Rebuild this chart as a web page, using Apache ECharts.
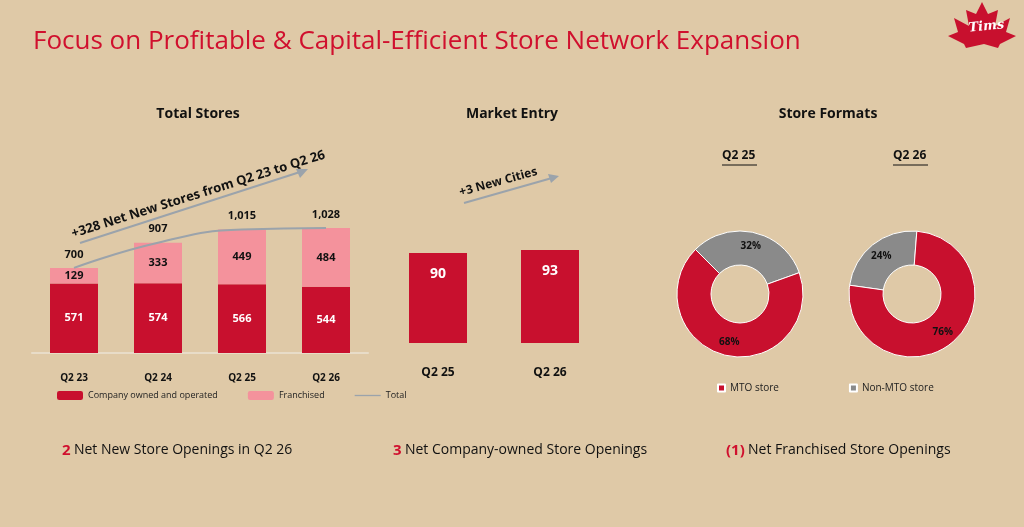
<!DOCTYPE html><html><head><meta charset="utf-8"><script src="https://cdn.jsdelivr.net/npm/echarts@6/dist/echarts.min.js"></script>
<style>body{margin:0;background:#DFC9A7}#c{width:1024px;height:527px}</style></head><body><div id="c"></div><script>
const storeCats=['Q2 23','Q2 24','Q2 25','Q2 26'];
const companyOwned=[571,574,566,544];
const franchised=[129,333,449,484];
const totals=[700,907,1015,1028];
const marketCats=['Q2 25','Q2 26'];
const cities=[90,93];
const fmtQ225=[{name:'Non-MTO store',value:32},{name:'MTO store',value:68}];
const fmtQ226=[{name:'Non-MTO store',value:24},{name:'MTO store',value:76}];
const RED='#C8102E',PINK='#F4929C',GRAY='#8A8A8A';
const ch=echarts.init(document.getElementById('c'));
const F='"Open Sans",sans-serif';
const lbl=(c,s)=>({show:true,color:c,fontFamily:F,fontWeight:'bold',fontSize:s||11});
ch.setOption({
 backgroundColor:'#DFC9A7',animation:false,
 title:[{text:'Focus on Profitable & Capital-Efficient Store Network Expansion',left:28,top:24,textStyle:{color:'#D0102E',fontSize:26,fontWeight:'normal',fontFamily:F}},
  {text:'Total Stores',left:193,top:102,textAlign:'center',textStyle:{fontSize:14,fontWeight:'bold',fontFamily:F,color:'#111'}},
  {text:'Market Entry',left:507,top:102,textAlign:'center',textStyle:{fontSize:14,fontWeight:'bold',fontFamily:F,color:'#111'}},
  {text:'Store Formats',left:823,top:102,textAlign:'center',textStyle:{fontSize:14,fontWeight:'bold',fontFamily:F,color:'#111'}}],
 legend:[{data:['Company owned and operated','Franchised',{name:'Total',icon:'path://M0,5L30,5L30,6.5L0,6.5Z'}],left:52,top:386,itemGap:30,itemWidth:26,itemHeight:9,textStyle:{fontSize:9,fontFamily:F,color:'#222'}},
  {data:['MTO store','Non-MTO store'],left:712,top:378,itemGap:70,itemWidth:7,itemHeight:7,icon:'rect',textStyle:{fontSize:10,fontFamily:F,color:'#222'}}],
 grid:[{left:32,top:130,width:336,bottom:174},{left:382,top:143,width:224,bottom:184}],
 xAxis:[{gridIndex:0,type:'category',data:storeCats,axisTick:{show:false},axisLine:{lineStyle:{color:'#E8DCC8',width:2}},axisLabel:{margin:20,fontWeight:'bold',fontSize:10,color:'#111',fontFamily:F}},
  {gridIndex:1,type:'category',data:marketCats,axisTick:{show:false},axisLine:{show:false},axisLabel:{margin:24,fontWeight:'bold',fontSize:12,color:'#111',fontFamily:F}}],
 yAxis:[{gridIndex:0,type:'value',min:0,max:1834,show:false,splitLine:{show:false}},{gridIndex:1,type:'value',min:0,max:200,show:false,splitLine:{show:false}}],
 series:[
  {name:'Company owned and operated',type:'bar',stack:'s',data:companyOwned,barWidth:48,itemStyle:{color:RED},label:{...lbl('#fff'),position:'inside'}},
  {name:'Franchised',type:'bar',stack:'s',data:franchised,itemStyle:{color:PINK},label:{...lbl('#111'),position:'inside'}},
  {type:'bar',stack:'s',data:totals.map(()=>0),itemStyle:{color:'transparent'},label:{...lbl('#111'),position:'top',distance:8,formatter:p=>totals[p.dataIndex].toLocaleString('en-US')}},
  {name:'Total',type:'line',data:totals,smooth:true,symbol:'none',z:5,lineStyle:{color:'#9BA3AB',width:2},itemStyle:{color:'#9BA3AB'}},
  {type:'bar',xAxisIndex:1,yAxisIndex:1,data:cities,barWidth:58,itemStyle:{color:RED},label:{...lbl('#fff',14),position:'insideTop',distance:14}},
  {type:'pie',center:[740,294],radius:[29,63],startAngle:135,data:fmtQ225,label:{...lbl('#111',10),position:'inside',formatter:'{c}%'},labelLine:{show:false},
   itemStyle:{borderColor:'#fff',borderWidth:1},color:[GRAY,RED]},
  {type:'pie',center:[912,294],radius:[29,63],startAngle:172,data:fmtQ226,label:{...lbl('#111',10),position:'inside',formatter:'{c}%'},labelLine:{show:false},
   itemStyle:{borderColor:'#fff',borderWidth:1},color:[GRAY,RED]}
 ],
 graphic:[
  {type:'text',left:722,top:150,style:{text:'Q2 25',font:'bold 12px "Open Sans"',fill:'#111'}},
  {type:'text',left:893,top:150,style:{text:'Q2 26',font:'bold 12px "Open Sans"',fill:'#111'}},
  {type:'line',shape:{x1:722,y1:165,x2:757,y2:165},style:{stroke:'#111',lineWidth:1}},
  {type:'line',shape:{x1:893,y1:165,x2:928,y2:165},style:{stroke:'#111',lineWidth:1}},
  {type:'line',shape:{x1:80,y1:243,x2:300,y2:172},style:{stroke:'#9BA3AB',lineWidth:2}},
  {type:'polygon',shape:{points:[[308,169],[296,169],[300,178]]},style:{fill:'#9BA3AB'}},
  {type:'text',x:70,y:228,rotation:0.305,style:{text:'+328 Net New Stores from Q2 23 to Q2 26',font:'bold 13px "Open Sans"',fill:'#111'}},
  {type:'line',shape:{x1:464,y1:203,x2:552,y2:178},style:{stroke:'#9BA3AB',lineWidth:2}},
  {type:'polygon',shape:{points:[[559,176],[548,174],[551,183]]},style:{fill:'#9BA3AB'}},
  {type:'text',x:458,y:187,rotation:0.27,style:{text:'+3 New Cities',font:'bold 12px "Open Sans"',fill:'#111'}},
  {type:'text',left:62,top:443,style:{rich:{r:{fill:'#D0102E',font:'bold 15px "Open Sans"'},n:{fill:'#111',font:'14px "Open Sans"'}},text:'{r|2} {n|Net New Store Openings in Q2 26}'}},
  {type:'text',left:393,top:443,style:{rich:{r:{fill:'#D0102E',font:'bold 15px "Open Sans"'},n:{fill:'#111',font:'14px "Open Sans"'}},text:'{r|3} {n|Net Company-owned Store Openings}'}},
  {type:'text',left:726,top:443,style:{rich:{r:{fill:'#D0102E',font:'bold 15px "Open Sans"'},n:{fill:'#111',font:'14px "Open Sans"'}},text:'{r|(1)} {n|Net Franchised Store Openings}'}},
  {type:'polygon',shape:{points:[[982,2],[988,14],[998,10],[995,26],[1010,18],[1006,32],[1016,36],[1000,44],[998,48],[984,44],[966,48],[964,44],[948,36],[958,32],[954,18],[969,26],[966,10],[976,14]]},style:{fill:'#C8102E'}},
  {type:'text',x:968,y:22,rotation:0.1,style:{text:'Tims',font:'italic bold 13px "DejaVu Serif"',fill:'#fff'}}
 ]
});
</script></body></html>
